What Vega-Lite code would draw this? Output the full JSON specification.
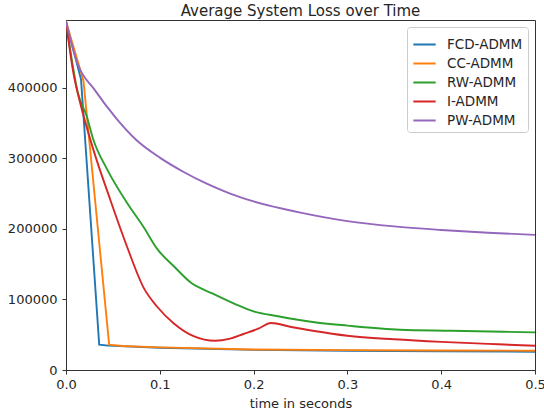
{
  "$schema": "https://vega.github.io/schema/vega-lite/v6.json",
  "width": 469,
  "height": 350,
  "autosize": {"type": "none"},
  "padding": {"left": 66, "top": 20, "right": 9, "bottom": 47},
  "background": "white",
  "config": {
    "view": {"stroke": "#333333", "strokeWidth": 1},
    "font": "DejaVu Sans",
    "axis": {
      "grid": false,
      "domainColor": "#333333",
      "tickColor": "#333333",
      "tickSize": 4,
      "labelFont": "DejaVu Sans",
      "labelFontSize": 13,
      "labelColor": "#262626",
      "titleFont": "DejaVu Sans",
      "titleFontSize": 13,
      "titleFontWeight": "normal",
      "titleColor": "#262626"
    },
    "legend": {
      "labelFont": "DejaVu Sans",
      "labelFontSize": 13.5,
      "labelColor": "#262626"
    }
  },
  "title": {
    "text": "Average System Loss over Time",
    "font": "DejaVu Sans",
    "fontSize": 15,
    "fontWeight": "normal",
    "color": "#262626",
    "offset": 1
  },
  "data": {
    "values": [
      {"series": "FCD-ADMM", "t": 0, "loss": 494000},
      {"series": "FCD-ADMM", "t": 0.016, "loss": 412000},
      {"series": "FCD-ADMM", "t": 0.0354, "loss": 36000},
      {"series": "FCD-ADMM", "t": 0.045, "loss": 34500},
      {"series": "FCD-ADMM", "t": 0.1, "loss": 31500},
      {"series": "FCD-ADMM", "t": 0.2, "loss": 28500},
      {"series": "FCD-ADMM", "t": 0.3, "loss": 27300},
      {"series": "FCD-ADMM", "t": 0.4, "loss": 26500},
      {"series": "FCD-ADMM", "t": 0.5, "loss": 25800},

      {"series": "CC-ADMM", "t": 0, "loss": 494000},
      {"series": "CC-ADMM", "t": 0.0186, "loss": 410000},
      {"series": "CC-ADMM", "t": 0.046, "loss": 36000},
      {"series": "CC-ADMM", "t": 0.06, "loss": 34000},
      {"series": "CC-ADMM", "t": 0.1, "loss": 32000},
      {"series": "CC-ADMM", "t": 0.2, "loss": 29000},
      {"series": "CC-ADMM", "t": 0.3, "loss": 28200},
      {"series": "CC-ADMM", "t": 0.4, "loss": 27700},
      {"series": "CC-ADMM", "t": 0.5, "loss": 27300},

      {"series": "RW-ADMM", "t": 0, "loss": 494000},
      {"series": "RW-ADMM", "t": 0.013, "loss": 391000},
      {"series": "RW-ADMM", "t": 0.022, "loss": 360000},
      {"series": "RW-ADMM", "t": 0.029, "loss": 327000},
      {"series": "RW-ADMM", "t": 0.044, "loss": 284000},
      {"series": "RW-ADMM", "t": 0.065, "loss": 237000},
      {"series": "RW-ADMM", "t": 0.083, "loss": 202000},
      {"series": "RW-ADMM", "t": 0.097, "loss": 172000},
      {"series": "RW-ADMM", "t": 0.115, "loss": 147000},
      {"series": "RW-ADMM", "t": 0.133, "loss": 124000},
      {"series": "RW-ADMM", "t": 0.156, "loss": 108500},
      {"series": "RW-ADMM", "t": 0.181, "loss": 93000},
      {"series": "RW-ADMM", "t": 0.2, "loss": 83000},
      {"series": "RW-ADMM", "t": 0.226, "loss": 76200},
      {"series": "RW-ADMM", "t": 0.263, "loss": 68000},
      {"series": "RW-ADMM", "t": 0.3, "loss": 62900},
      {"series": "RW-ADMM", "t": 0.356, "loss": 57100},
      {"series": "RW-ADMM", "t": 0.411, "loss": 55700},
      {"series": "RW-ADMM", "t": 0.5, "loss": 53300},

      {"series": "I-ADMM", "t": 0, "loss": 494000},
      {"series": "I-ADMM", "t": 0.008, "loss": 420000},
      {"series": "I-ADMM", "t": 0.015, "loss": 379000},
      {"series": "I-ADMM", "t": 0.029, "loss": 313000},
      {"series": "I-ADMM", "t": 0.047, "loss": 242000},
      {"series": "I-ADMM", "t": 0.065, "loss": 175000},
      {"series": "I-ADMM", "t": 0.083, "loss": 116000},
      {"series": "I-ADMM", "t": 0.097, "loss": 90000},
      {"series": "I-ADMM", "t": 0.115, "loss": 66000},
      {"series": "I-ADMM", "t": 0.136, "loss": 48000},
      {"series": "I-ADMM", "t": 0.159, "loss": 41400},
      {"series": "I-ADMM", "t": 0.175, "loss": 44500},
      {"series": "I-ADMM", "t": 0.189, "loss": 51000},
      {"series": "I-ADMM", "t": 0.205, "loss": 58500},
      {"series": "I-ADMM", "t": 0.2185, "loss": 66700},
      {"series": "I-ADMM", "t": 0.24, "loss": 61000},
      {"series": "I-ADMM", "t": 0.263, "loss": 55700},
      {"series": "I-ADMM", "t": 0.3, "loss": 48600},
      {"series": "I-ADMM", "t": 0.35, "loss": 43500},
      {"series": "I-ADMM", "t": 0.4, "loss": 39800},
      {"series": "I-ADMM", "t": 0.45, "loss": 37000},
      {"series": "I-ADMM", "t": 0.5, "loss": 34300},

      {"series": "PW-ADMM", "t": 0, "loss": 494000},
      {"series": "PW-ADMM", "t": 0.012, "loss": 435000},
      {"series": "PW-ADMM", "t": 0.03, "loss": 398000},
      {"series": "PW-ADMM", "t": 0.054, "loss": 356000},
      {"series": "PW-ADMM", "t": 0.075, "loss": 326000},
      {"series": "PW-ADMM", "t": 0.1, "loss": 301000},
      {"series": "PW-ADMM", "t": 0.125, "loss": 281000},
      {"series": "PW-ADMM", "t": 0.15, "loss": 264000},
      {"series": "PW-ADMM", "t": 0.175, "loss": 250000},
      {"series": "PW-ADMM", "t": 0.2, "loss": 239000},
      {"series": "PW-ADMM", "t": 0.25, "loss": 223000},
      {"series": "PW-ADMM", "t": 0.3, "loss": 211000},
      {"series": "PW-ADMM", "t": 0.35, "loss": 203500},
      {"series": "PW-ADMM", "t": 0.4, "loss": 198500},
      {"series": "PW-ADMM", "t": 0.45, "loss": 194500},
      {"series": "PW-ADMM", "t": 0.5, "loss": 191500}
    ]
  },
  "encoding": {
    "x": {
      "field": "t",
      "type": "quantitative",
      "title": "time in seconds",
      "scale": {"domain": [0, 0.5], "nice": false, "zero": false},
      "axis": {"values": [0, 0.1, 0.2, 0.3, 0.4, 0.5], "format": ".1f", "labelFlush": false, "labelPadding": 4, "titlePadding": 6}
    },
    "y": {
      "field": "loss",
      "type": "quantitative",
      "title": null,
      "scale": {"domain": [0, 496000], "nice": false},
      "axis": {"values": [0, 100000, 200000, 300000, 400000], "format": "d", "labelFlush": false, "labelPadding": 5}
    },
    "color": {
      "field": "series",
      "type": "nominal",
      "title": null,
      "scale": {
        "domain": ["FCD-ADMM", "CC-ADMM", "RW-ADMM", "I-ADMM", "PW-ADMM"],
        "range": ["#1f77b4", "#ff7f0e", "#2ca02c", "#d62728", "#9467bd"]
      },
      "legend": {
        "orient": "top-right",
        "offset": 7,
        "symbolType": "stroke",
        "symbolSize": 500,
        "symbolStrokeWidth": 2,
        "rowPadding": 0,
        "labelOffset": 10,
        "padding": 5,
        "strokeColor": "#cccccc",
        "fillColor": "white",
        "cornerRadius": 3
      }
    },
    "order": {"field": "t", "type": "quantitative"}
  },
  "layer": [
    {
      "transform": [{"filter": {"field": "series", "oneOf": ["FCD-ADMM", "CC-ADMM"]}}],
      "mark": {"type": "line", "strokeWidth": 1.9, "clip": true}
    },
    {
      "transform": [{"filter": {"field": "series", "oneOf": ["RW-ADMM", "I-ADMM", "PW-ADMM"]}}],
      "mark": {"type": "line", "strokeWidth": 1.9, "clip": true, "interpolate": "monotone"}
    }
  ]
}
